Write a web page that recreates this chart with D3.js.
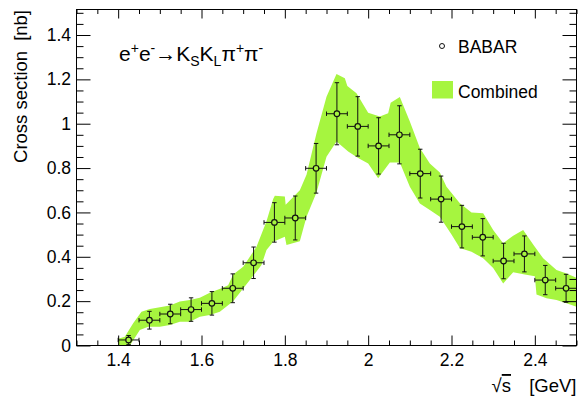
<!DOCTYPE html>
<html>
<head>
<meta charset="utf-8">
<script src="https://cdn.jsdelivr.net/npm/d3@7"></script>
<style>
  html, body { margin: 0; padding: 0; background: #fff; }
  svg { display: block; }
  text { font-family: "Liberation Sans", Arial, Helvetica, sans-serif; fill: #000; }
</style>
</head>
<body>
<svg id="chart" width="582" height="399"></svg>
<script>
// BABAR measurement of e+e- -> KS KL pi+ pi- : bin centres, cross sections, errors
const energy = [1.425, 1.475, 1.525, 1.575, 1.625, 1.675, 1.725, 1.775, 1.825, 1.875, 1.925,
                1.975, 2.025, 2.075, 2.125, 2.175, 2.225, 2.275, 2.325, 2.375, 2.425, 2.475];
const sigma = [0.025, 0.114, 0.142, 0.162, 0.190, 0.258, 0.373, 0.555, 0.575, 0.799, 1.045,
               0.988, 0.900, 0.950, 0.775, 0.660, 0.536, 0.488, 0.381, 0.413, 0.295, 0.258];
const sigmaErr = [0.020, 0.040, 0.044, 0.053, 0.053, 0.065, 0.071, 0.089, 0.099, 0.112, 0.140,
                  0.134, 0.127, 0.131, 0.110, 0.104, 0.096, 0.084, 0.080, 0.081, 0.066, 0.063];
const binHalfWidth = 0.025;

// Combined result: upper and lower edges of the band
const bandUpper = [
  [1.400, 0.030], [1.416, 0.040], [1.436, 0.100], [1.456, 0.152], [1.476, 0.165], [1.500, 0.172],
  [1.524, 0.180], [1.548, 0.198], [1.572, 0.205], [1.596, 0.215], [1.620, 0.238], [1.648, 0.258],
  [1.664, 0.272], [1.676, 0.320], [1.700, 0.355], [1.732, 0.445], [1.756, 0.560], [1.772, 0.660],
  [1.776, 0.675], [1.800, 0.672], [1.802, 0.635], [1.836, 0.700], [1.852, 0.770], [1.876, 0.957],
  [1.900, 1.122], [1.924, 1.224], [1.944, 1.205], [1.950, 1.170], [1.972, 1.137], [2.000, 1.050],
  [2.028, 1.032], [2.048, 1.047], [2.054, 1.095], [2.076, 1.120], [2.100, 1.010], [2.124, 0.890],
  [2.148, 0.821], [2.172, 0.780], [2.188, 0.716], [2.220, 0.641], [2.248, 0.600], [2.276, 0.596],
  [2.300, 0.521], [2.324, 0.461], [2.348, 0.495], [2.372, 0.521], [2.396, 0.455], [2.420, 0.393],
  [2.452, 0.340], [2.476, 0.325], [2.500, 0.305]
];
const bandLower = [
  [1.400, 0.000], [1.428, 0.000], [1.452, 0.070], [1.472, 0.085], [1.500, 0.085], [1.524, 0.092],
  [1.548, 0.107], [1.572, 0.107], [1.596, 0.130], [1.620, 0.137], [1.644, 0.152], [1.676, 0.200],
  [1.716, 0.295], [1.744, 0.363], [1.756, 0.431], [1.772, 0.468], [1.800, 0.490], [1.804, 0.453],
  [1.836, 0.470], [1.852, 0.580], [1.876, 0.690], [1.900, 0.851], [1.924, 0.920], [1.952, 0.875],
  [1.976, 0.845], [2.000, 0.821], [2.024, 0.754], [2.052, 0.825], [2.076, 0.825], [2.100, 0.716],
  [2.124, 0.640], [2.148, 0.611], [2.172, 0.580], [2.200, 0.500], [2.220, 0.440], [2.248, 0.423],
  [2.276, 0.393], [2.300, 0.350], [2.324, 0.280], [2.348, 0.330], [2.376, 0.320], [2.400, 0.312],
  [2.404, 0.230], [2.428, 0.213], [2.452, 0.205], [2.476, 0.190], [2.500, 0.175]
];

// Axis ticks
const xMajor = [1.4, 1.6, 1.8, 2.0, 2.2, 2.4];
const xLabels = ["1.4", "1.6", "1.8", "2", "2.2", "2.4"];
const yMajor = [0, 0.2, 0.4, 0.6, 0.8, 1.0, 1.2, 1.4];
const yLabels = ["0", "0.2", "0.4", "0.6", "0.8", "1", "1.2", "1.4"];
const xMinor = d3.range(26).map(i => +(1.3 + i * 0.05).toFixed(2)).filter(v => v <= 2.5 && !xMajor.includes(v));
const yMinor = d3.range(31).map(i => +(i * 0.05).toFixed(2)).filter(v => !yMajor.includes(v));

const bandColor = "#a6f53f";

const svg = d3.select("#chart");
const L = 76.5, R = 576.5, T = 9.5, B = 345.5;
const x = d3.scaleLinear().domain([1.3, 2.5]).range([L, R]);
const y = d3.scaleLinear().domain([0, 1.515]).range([B, T]);

// Combined band
const polygon = bandUpper.concat(bandLower.slice().reverse());
svg.append("path")
  .attr("d", d3.line().x(d => x(d[0])).y(d => y(d[1]))(polygon) + "Z")
  .attr("fill", bandColor)
  .attr("stroke", "none");

// Error bars
const ink = "#111";
const cap = 2.2;
const bars = svg.append("g").attr("stroke", ink).attr("stroke-width", 1).attr("fill", "none");
energy.forEach((e, i) => {
  const cx = x(e), cy = y(sigma[i]);
  const lo = Math.min(y(Math.max(sigma[i] - sigmaErr[i], 0)), B);
  const hi = y(sigma[i] + sigmaErr[i]);
  const xl = x(e - binHalfWidth), xr = x(e + binHalfWidth);
  const r = 2.8;
  bars.append("line").attr("x1", cx).attr("x2", cx).attr("y1", hi).attr("y2", cy - r);
  bars.append("line").attr("x1", cx).attr("x2", cx).attr("y1", cy + r).attr("y2", lo);
  bars.append("line").attr("x1", xl).attr("x2", cx - r).attr("y1", cy).attr("y2", cy);
  bars.append("line").attr("x1", cx + r).attr("x2", xr).attr("y1", cy).attr("y2", cy);
  bars.append("line").attr("x1", cx - cap).attr("x2", cx + cap).attr("y1", hi).attr("y2", hi);
  if (lo < B) bars.append("line").attr("x1", cx - cap).attr("x2", cx + cap).attr("y1", lo).attr("y2", lo);
  bars.append("line").attr("x1", xl).attr("x2", xl).attr("y1", cy - cap).attr("y2", cy + cap);
  bars.append("line").attr("x1", xr).attr("x2", xr).attr("y1", cy - cap).attr("y2", cy + cap);
});

// Markers (open circles)
svg.append("g").selectAll("circle").data(energy).join("circle")
  .attr("cx", d => x(d))
  .attr("cy", (d, i) => y(sigma[i]))
  .attr("r", 2.8)
  .attr("fill", "none")
  .attr("stroke", ink)
  .attr("stroke-width", 1.2);

// Axes with inward ticks
function styleAxis(g) {
  g.selectAll(".domain").remove();
  g.selectAll(".tick line").attr("stroke", "#000");
  g.selectAll("text").attr("font-size", 17.5).attr("font-family", "Liberation Sans, Arial, sans-serif").attr("fill", "#000");
}
const fmtX = d => xLabels[xMajor.indexOf(d)];
const fmtY = d => yLabels[yMajor.indexOf(d)];

svg.append("g").attr("transform", `translate(0,${B})`)
  .call(d3.axisBottom(x).tickValues(xMajor).tickFormat(fmtX).tickSize(-10).tickPadding(8))
  .call(styleAxis);
svg.append("g").attr("transform", `translate(0,${B})`)
  .call(d3.axisBottom(x).tickValues(xMinor).tickFormat("").tickSize(-5))
  .call(styleAxis);
svg.append("g").attr("transform", `translate(0,${T})`)
  .call(d3.axisTop(x).tickValues(xMajor).tickFormat("").tickSize(-9))
  .call(styleAxis);
svg.append("g").attr("transform", `translate(0,${T})`)
  .call(d3.axisTop(x).tickValues(xMinor).tickFormat("").tickSize(-4.5))
  .call(styleAxis);

svg.append("g").attr("transform", `translate(${L},0)`)
  .call(d3.axisLeft(y).tickValues(yMajor).tickFormat(fmtY).tickSize(-14).tickPadding(5.5))
  .call(styleAxis);
svg.append("g").attr("transform", `translate(${L},0)`)
  .call(d3.axisLeft(y).tickValues(yMinor).tickFormat("").tickSize(-7))
  .call(styleAxis);
svg.append("g").attr("transform", `translate(${R},0)`)
  .call(d3.axisRight(y).tickValues(yMajor).tickFormat("").tickSize(-14))
  .call(styleAxis);
svg.append("g").attr("transform", `translate(${R},0)`)
  .call(d3.axisRight(y).tickValues(yMinor).tickFormat("").tickSize(-7))
  .call(styleAxis);

// Frame
svg.append("rect")
  .attr("x", L).attr("y", T).attr("width", R - L).attr("height", B - T)
  .attr("fill", "none").attr("stroke", "#000").attr("stroke-width", 1);

// Axis titles
const yTitle = svg.append("text")
  .attr("transform", `translate(27,${T + 0.5}) rotate(-90)`)
  .attr("text-anchor", "end")
  .attr("font-size", 18.5);
yTitle.append("tspan").text("Cross section");
yTitle.append("tspan").attr("dx", 10).text("[nb]");

svg.append("text")
  .attr("x", R).attr("y", 392)
  .attr("text-anchor", "end")
  .attr("font-size", 18.5)
  .text("[GeV]");
const sqrtS = svg.append("text")
  .attr("x", 511).attr("y", 392)
  .attr("text-anchor", "end")
  .attr("font-size", 18.5);
sqrtS.append("tspan").text("\u221A");
sqrtS.append("tspan").style("text-decoration", "overline").text("s");

// Process label
const title = svg.append("text").attr("x", 119).attr("y", 61).attr("font-size", 21);
const parts = [
  ["e", 0], ["+", -1], ["e", 0], ["-", -1], ["\u2192", 0], ["K", 0], ["S", 1],
  ["K", 0], ["L", 1], ["\u03c0", 0], ["+", -1], ["\u03c0", 0], ["-", -1]
];
let shift = 0;
parts.forEach(([t, s]) => {
  const dy = (s === -1 ? -8 : s === 1 ? 5 : 0) - shift;
  shift += dy;
  title.append("tspan").attr("dy", dy).attr("font-size", s === 0 ? 21 : 14).text(t);
});

// Legend
svg.append("circle").attr("cx", 442).attr("cy", 46).attr("r", 2.5)
  .attr("fill", "none").attr("stroke", ink).attr("stroke-width", 1);
svg.append("text").attr("x", 458).attr("y", 53).attr("font-size", 17.5).text("BABAR");
svg.append("rect").attr("x", 432).attr("y", 81).attr("width", 21).attr("height", 17.5).attr("fill", bandColor);
svg.append("text").attr("x", 458).attr("y", 97.5).attr("font-size", 17.5).text("Combined");
</script>
</body>
</html>
